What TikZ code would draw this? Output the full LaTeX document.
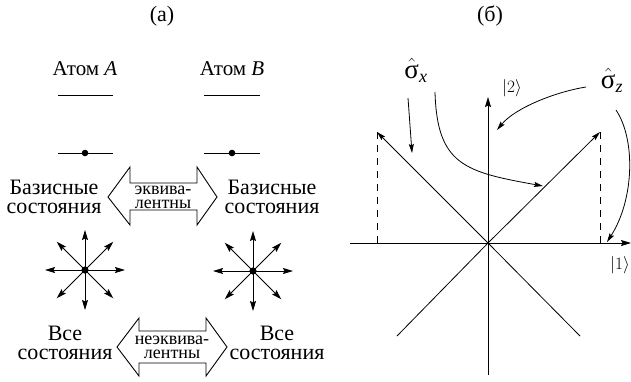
\documentclass[tikz,border=0pt]{standalone}
\usepackage{fontspec}
\setmainfont{Liberation Serif}
\usetikzlibrary{arrows.meta}
\begin{document}
\begin{tikzpicture}[x=1pt,y=-1pt,
  tip/.style={-{Stealth[length=10pt,width=6pt,inset=1.5pt]}},
  thin tip/.style={-{Stealth[length=9pt,width=5pt,inset=1.5pt]}},
  lbl/.style={font=\fontsize{22}{22}\selectfont, inner sep=0pt},
  atom/.style={font=\fontsize{21}{21}\selectfont, inner sep=0pt},
  small/.style={font=\fontsize{18}{18}\selectfont, inner sep=0pt},
  dblarrow/.style={draw, line width=0.9pt, fill=white},
  line width=1pt]
\useasboundingbox (0,0) rectangle (631,381);

% panel titles
\node[lbl] (ta) at (162,16) {(а)};
\node[lbl] (tb) at (490,16) {(б)};

% atoms
\node[atom] (atA) at (85,69) {Атом \textit{A}};
\node[atom] (atB) at (232,69) {Атом \textit{B}};
\coordinate (a1l) at (58,95); \coordinate (a1r) at (113,95);
\coordinate (b1l) at (204,95); \coordinate (b1r) at (260,95);
\coordinate (a0l) at (58,153); \coordinate (a0r) at (113,153);
\coordinate (b0l) at (204,153); \coordinate (b0r) at (260,153);
\draw (a1l) -- (a1r); \draw (b1l) -- (b1r);
\draw (a0l) -- (a0r); \draw (b0l) -- (b0r);
\fill (85,153) circle (3.3pt);
\fill (232,153) circle (3.3pt);

% basis states labels
\node[lbl, align=center] (basA) at (54,197) {Базисные\\[-3pt]состояния};
\node[lbl, align=center] (basB) at (272,197) {Базисные\\[-3pt]состояния};

% double arrow 1
\draw[dblarrow] (108,197) -- (130,167) -- (130,183) -- (197,183) -- (197,167)
  -- (217,197) -- (197,225) -- (197,210) -- (130,210) -- (130,225) -- cycle;
\node[small, align=center] (eq) at (163,197) {эквива-\\[-4pt]лентны};

% stars
\foreach \cx/\cy/\nm in {85/270/sA, 253/271/sB}{
  \coordinate (\nm) at (\cx,\cy);
  \foreach \a in {0,45,...,315}{
    \draw[tip] (\nm) -- ++(\a:40);
  }
  \fill (\nm) circle (3.6pt);
}

% all states labels
\node[lbl, align=center] (allA) at (65,343) {Все\\[-3pt]состояния};
\node[lbl, align=center] (allB) at (277,343) {Все\\[-3pt]состояния};

% double arrow 2
\draw[dblarrow] (117,347) -- (139,318) -- (139,331) -- (206,331) -- (206,318)
  -- (227,347) -- (206,376) -- (206,363) -- (139,363) -- (139,376) -- cycle;
\node[small, align=center] (neq) at (172,347) {неэквива-\\[-4pt]лентны};

% ---------------- panel (b)
\coordinate (O) at (488,243);
\coordinate (xl) at (350,243);
\coordinate (xr) at (631,243);
\coordinate (yb) at (488,375);
\coordinate (yt) at (488,97);
\draw[tip] (xl) -- (xr);
\draw[tip] (yb) -- (yt);
\coordinate (ul) at (377,132);
\coordinate (ur) at (600,132);
\coordinate (dl) at (397,336);
\coordinate (dr) at (580,336);
\coordinate (ulx) at (377,243);
\coordinate (urx) at (600,243);
\draw[thin tip, line width=0.8pt] (O) -- (ul);
\draw[thin tip, line width=0.8pt] (O) -- (ur);
\draw[line width=0.8pt] (O) -- (dl);
\draw[line width=0.8pt] (O) -- (dr);
\draw[dash pattern=on 7pt off 6pt, line width=0.8pt] (ul) -- (ulx);
\draw[dash pattern=on 7pt off 6pt, line width=0.8pt] (ur) -- (urx);

\node[font=\fontsize{18}{18}\selectfont, inner sep=0pt] (k2) at (512,88) {$|2\rangle$};
\node[font=\fontsize{19}{19}\selectfont, inner sep=0pt] (k1) at (620,265) {$|1\rangle$};

\node[inner sep=0pt, font=\fontsize{27}{27}\selectfont] (sx) at (416,70) {$\hat{\mbox{σ}}_{\mbox{\fontsize{18}{18}\selectfont\itshape x}}$};
\node[inner sep=0pt, font=\fontsize{27}{27}\selectfont] (sz) at (612,80) {$\hat{\mbox{σ}}_{\mbox{\fontsize{18}{18}\selectfont\itshape z}}$};

\coordinate (sx1) at (408,98); \coordinate (sx1e) at (412,153);
\coordinate (sx2) at (435,92); \coordinate (sx2e) at (543,186);
\coordinate (sz1) at (586,87); \coordinate (sz1e) at (497,130);
\coordinate (sz2) at (616,110); \coordinate (sz2e) at (607,242);
\draw[thin tip, line width=0.8pt] (sx1) -- (sx1e);
\draw[thin tip, line width=0.8pt] (sx2) .. controls (437,165) and (465,172) .. (sx2e);
\draw[thin tip, line width=0.8pt] (sz1) .. controls (555,92) and (515,108) .. (sz1e);
\draw[thin tip, line width=0.8pt] (sz2) .. controls (636,140) and (634,200) .. (sz2e);
\end{tikzpicture}
\end{document}
